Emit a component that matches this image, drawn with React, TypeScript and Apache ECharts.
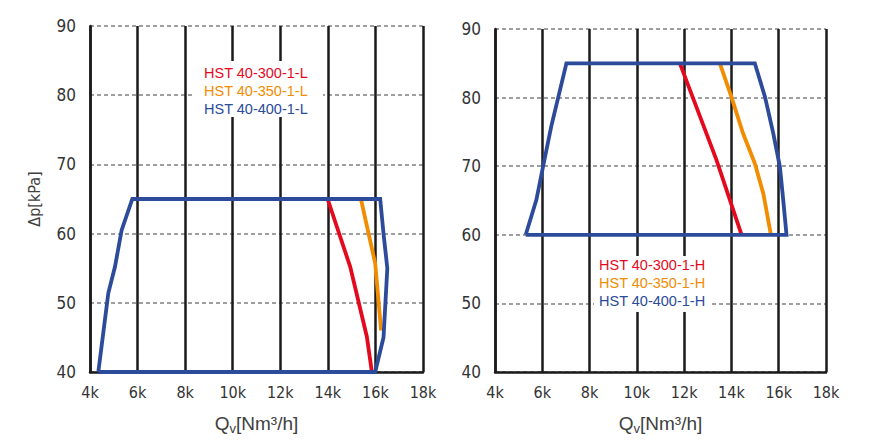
import React, { useEffect, useRef } from "react";
import * as echarts from "echarts";

// Left chart (L series) – [Qv in Nm³/h, Δp in kPa]
const leftBlue: [number, number][] = [
  [4350, 40], [4770, 51.4], [5050, 55.2], [5330, 60.5], [5780, 65],
  [16200, 65], [16340, 60], [16500, 55], [16340, 45], [15990, 40], [4350, 40],
];
const leftRed: [number, number][] = [[13990, 65], [14940, 55.2], [15640, 45.1], [15850, 40]];
const leftOrange: [number, number][] = [[15390, 65], [15990, 55.7], [16240, 46]];

// Right chart (H series)
const rightBlue: [number, number][] = [
  [5300, 60], [5750, 65.1], [6030, 69.9], [6380, 75.8], [7020, 85],
  [14990, 85], [15420, 80.1], [15770, 74.8], [16050, 69.9], [16190, 65.1], [16330, 60], [5300, 60],
];
const rightRed: [number, number][] = [[11820, 85], [13370, 70.9], [14430, 60]];
const rightOrange: [number, number][] = [
  [13510, 85], [14000, 80.1], [14490, 74.8], [14990, 70.4], [15350, 66], [15670, 60],
];

const leftLegend = ["HST 40-300-1-L", "HST 40-350-1-L", "HST 40-400-1-L"];
const rightLegend = ["HST 40-300-1-H", "HST 40-350-1-H", "HST 40-400-1-H"];

const RED = "#e30a1d";
const ORANGE = "#f28c00";
const BLUE = "#2c4b9b";
const COND = "'Liberation Sans Narrow', 'DejaVu Sans Condensed', 'Liberation Sans', Arial, sans-serif";
const SANS = "'Liberation Sans', Arial, sans-serif";

export default function App() {
  const ref = useRef<HTMLDivElement>(null);
  useEffect(() => {
    if (!ref.current) return;
    const chart = echarts.init(ref.current, undefined, { renderer: "svg" });

    const xAxisBase = (gridIndex: number) => ({
      type: "value" as const,
      gridIndex,
      min: 4000,
      max: 18000,
      interval: 2000,
      name: "{a|Q}{b|v}{a|[Nm³/h]}",
      nameLocation: "middle" as const,
      nameGap: 40,
      nameTextStyle: {
        rich: {
          a: { fontSize: 19, color: "#404040", fontFamily: SANS },
          b: { fontSize: 13, color: "#404040", fontFamily: SANS, padding: [10, 0, 0, 0] },
        },
      },
      axisLine: { show: true, onZero: false, lineStyle: { color: "#1a1a1a", width: 2.5 } },
      axisTick: { show: false },
      axisLabel: {
        formatter: (v: number) => v / 1000 + "k",
        fontSize: 16,
        color: "#333",
        fontFamily: COND,
        margin: 12,
      },
      splitLine: { show: true, lineStyle: { color: "#1a1a1a", width: 2.5 } },
    });

    const yAxisBase = (gridIndex: number, withName: boolean) => ({
      type: "value" as const,
      gridIndex,
      min: 40,
      max: 90,
      interval: 10,
      name: withName ? "Δp[kPa]" : "",
      nameLocation: "middle" as const,
      nameGap: 48,
      nameTextStyle: { fontSize: 16, color: "#404040", fontFamily: COND },
      axisLine: { show: true, onZero: false, lineStyle: { color: "#1a1a1a", width: 2.5 } },
      axisTick: { show: false },
      axisLabel: { fontSize: 17, color: "#333", fontFamily: COND, margin: 14 },
      splitLine: { show: true, lineStyle: { color: "#808080", width: 1.6, type: [4, 3] } },
    });

    const lineSeries = (data: [number, number][], color: string, idx: number, z: number) => ({
      type: "line" as const,
      xAxisIndex: idx,
      yAxisIndex: idx,
      data,
      symbol: "none",
      silent: true,
      z,
      lineStyle: { color, width: 3.8, join: "miter" },
    });

    const legendGraphic = (x: number, y: number, labels: string[], rect: number[]) => [
      {
        type: "rect",
        shape: { x: rect[0], y: rect[1], width: rect[2], height: rect[3] },
        style: { fill: "#fff" },
        z: 50,
        silent: true,
      },
      ...labels.map((t, i) => ({
        type: "text",
        x,
        y: y + i * 18,
        style: {
          text: t,
          fill: [RED, ORANGE, BLUE][i],
          fontSize: 14.5,
          fontFamily: SANS,
          textVerticalAlign: "middle",
          verticalAlign: "middle",
        },
        z: 51,
        silent: true,
      })),
    ];

    chart.setOption({
      animation: false,
      backgroundColor: "#fff",
      grid: [
        { left: 90, right: 451, top: 26, bottom: 72 },
        { left: 495, right: 48, top: 29, bottom: 72 },
      ],
      xAxis: [xAxisBase(0), xAxisBase(1)],
      yAxis: [yAxisBase(0, true), yAxisBase(1, false)],
      series: [
        lineSeries(leftRed, RED, 0, 3),
        lineSeries(leftOrange, ORANGE, 0, 3),
        lineSeries(leftBlue, BLUE, 0, 4),
        lineSeries(rightRed, RED, 1, 3),
        lineSeries(rightOrange, ORANGE, 1, 3),
        lineSeries(rightBlue, BLUE, 1, 4),
      ],
      graphic: [
        ...legendGraphic(204, 73, leftLegend, [193, 61, 130, 56]),
        ...legendGraphic(599, 265, rightLegend, [594, 256, 118, 56]),
      ],
    });
    return () => chart.dispose();
  }, []);
  return (
    <div
      ref={ref}
      style={{ position: "fixed", left: 0, top: 0, width: 874, height: 444 }}
    />
  );
}
